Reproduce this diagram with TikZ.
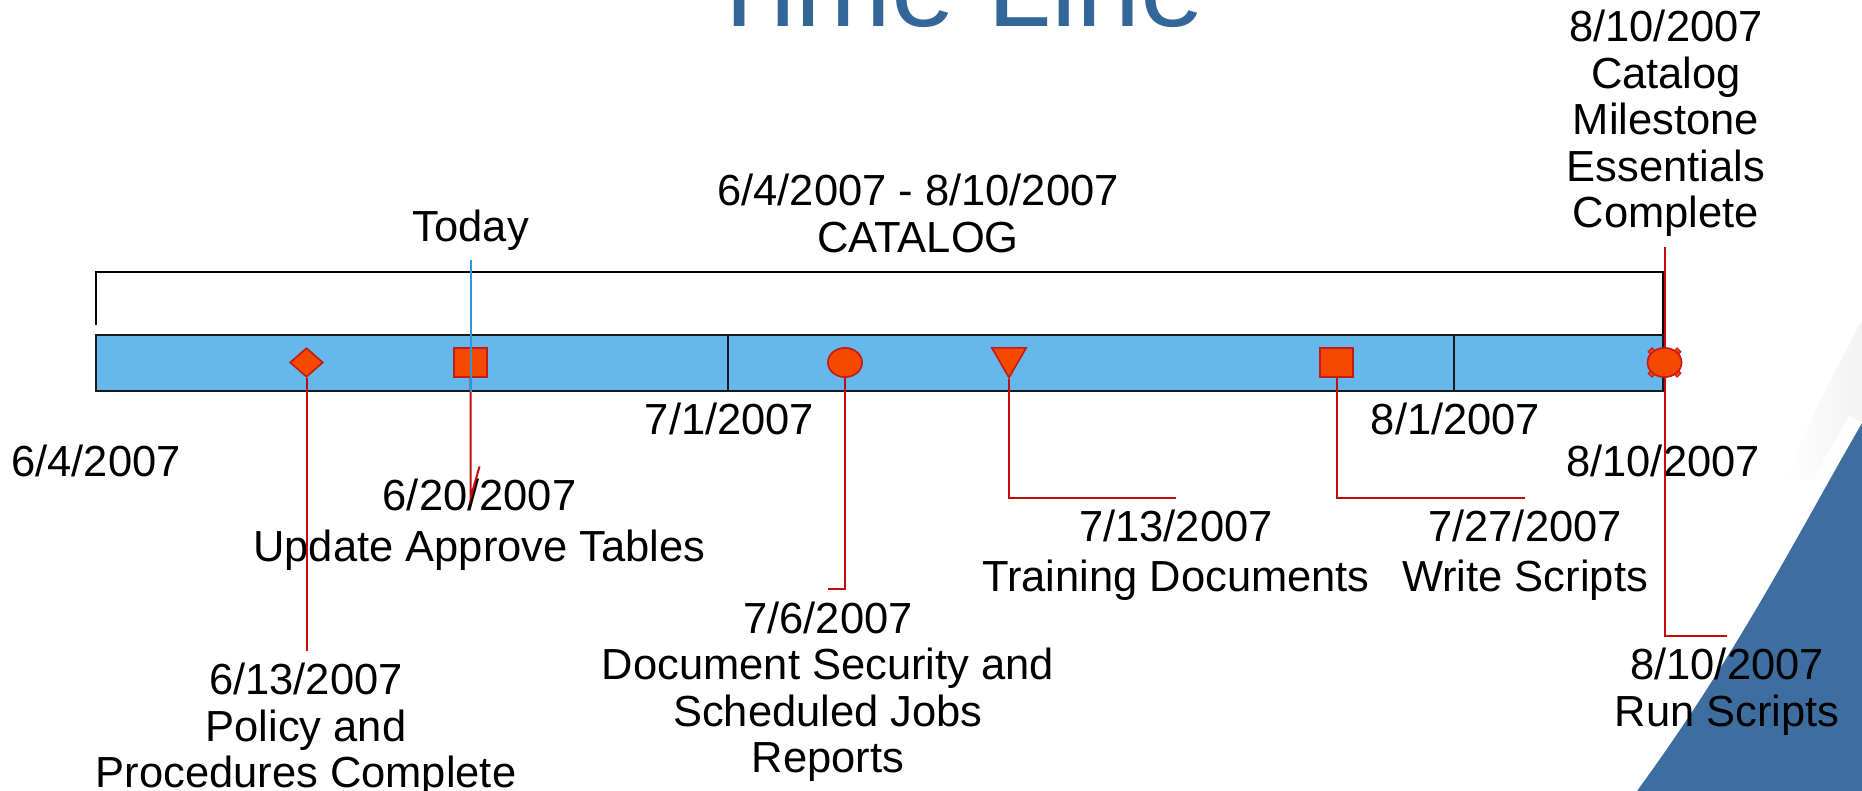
\documentclass[tikz,border=0pt]{standalone}
\usepackage{fontspec}
\setmainfont{Liberation Sans}
\usetikzlibrary{shapes.geometric}

\definecolor{barblue}{HTML}{66B8EC}
\definecolor{mfill}{HTML}{F54900}
\definecolor{mline}{HTML}{C41A1A}
\definecolor{conred}{HTML}{C40A0A}
\definecolor{todayblue}{HTML}{2E96E0}
\definecolor{titleblue}{HTML}{336699}
\definecolor{swoosh}{HTML}{3E6EA0}

% invisible strut fixing the height of a label's first line
\newcommand{\firstln}{\rule{0pt}{34pt}}

\begin{document}
\begin{tikzpicture}[x=1pt,y=-1pt,
  lbl/.style={font=\fontsize{43.5}{46.5}\selectfont, align=center,
    inner xsep=0pt, inner ysep=10pt, anchor=north},
  wide/.style={font=\fontsize{43.5}{#1}\selectfont},
  marker/.style={fill=mfill, draw=mline, line width=1.5pt, inner sep=0pt},
  conn/.style={draw=conred, line width=2pt},
  bracket/.style={draw=black, line width=2.5pt},
  barline/.style={draw=black!90, line width=2pt},
]
\useasboundingbox (0,0) rectangle (1862,791);
\clip (0,0) rectangle (1862,791);

% corner swoosh of the slide background
\shade[left color=white, right color=black!5]
  (1862,320) .. controls (1830,380) and (1805,430) .. (1785,480)
  -- (1862,480) -- cycle;
\draw[white, line width=30pt, opacity=0.9]
  (1862,423) .. controls (1800,530) and (1740,650) .. (1637,791);
\fill[swoosh]
  (1862,423) .. controls (1800,530) and (1740,650) .. (1637,791)
  -- (1862,791) -- cycle;

% title
\node[anchor=base, font=\fontsize{115}{130}\selectfont, text=titleblue,
  inner sep=0pt] (title) at (954.5,27) {Time Line};

% span bracket
\draw[bracket] (96,325) -- (96,272) -- (1663,272) -- (1663,335);

% time bar
\node[fill=barblue, barline, minimum width=1567pt, minimum height=56pt,
  inner sep=0pt] (bar) at (879.5,363) {};
\draw[barline] (728,0 |- bar.north) -- (728,0 |- bar.south);
\draw[barline] (1454,0 |- bar.north) -- (1454,0 |- bar.south);

% labels
\node[lbl] (span) at (918,161.5) {\firstln 6/4/2007 - 8/10/2007\\CATALOG};
\node[lbl] (today) at (470.8,197) {\firstln Today};
\node[lbl] (top) at (1666,-2.5)
  {\firstln 8/10/2007\\Catalog\\Milestone\\Essentials\\Complete};

\node[lbl] (t1) at (96,432) {\firstln 6/4/2007};
\node[lbl] (t2) at (729.5,390.5) {\firstln 7/1/2007};
\node[lbl] (t3) at (1455.5,390.5) {\firstln 8/1/2007};
\node[lbl] (t4) at (1663,432) {\firstln 8/10/2007};

\node[lbl] (l1) at (306,650.5)
  {\firstln 6/13/2007\\Policy and\\Procedures Complete};
\node[lbl, wide=51] (l2) at (479.5,466.5) {\firstln 6/20/2007\\Update Approve Tables};
\node[lbl] (l3) at (828,589)
  {\firstln 7/6/2007\\Document Security and\\Scheduled Jobs\\Reports};
\node[lbl, wide=49.5] (l4) at (1176,497.5) {\firstln 7/13/2007\\Training Documents};
\node[lbl, wide=49.5] (l5) at (1525,497.5) {\firstln 7/27/2007\\Write Scripts};
\node[lbl] (l6) at (1727,635.5) {\firstln 8/10/2007\\Run Scripts};

% milestone marker positions
\path
  (306.5,362.5) coordinate (p1)
  (470.5,362.5) coordinate (p2)
  (845,362.5)   coordinate (p3)
  (1009,357.8)  coordinate (p4)
  (1336.5,362.5) coordinate (p5)
  (1664.5,362.5) coordinate (p6)
  (470.5,498)   coordinate (k2);

\node[marker, diamond, minimum width=33pt, minimum height=29pt] (m1) at (p1) {};
\node[marker, rectangle, minimum width=33pt, minimum height=29pt] (m2) at (p2) {};
\node[marker, ellipse, minimum width=34pt, minimum height=29pt] (m3) at (p3) {};
\node[marker, regular polygon, regular polygon sides=3, shape border rotate=180,
  minimum size=39.3pt] (m4) at (p4) {};
\node[marker, rectangle, minimum width=33pt, minimum height=29pt] (m5) at (p5) {};
\node[marker, ellipse, minimum width=34pt, minimum height=29pt] (m6) at (p6) {};

% connectors from markers to their labels
\draw[conn] (m1.south) -- (m1.south |- l1.north);
\draw[conn] (m2.south) -- (k2) -- (l2.north);
\draw[conn] (m3.south) |- (l3.north);
\draw[conn] (m4.south) |- (l4.north);
\draw[conn] (m5.south) |- (l5.north);
\draw[conn] (m6.north |- top.south) -- (m6.south) |- (l6.north);

% markers redrawn on top of the connectors
\node[marker, diamond, minimum width=33pt, minimum height=29pt] at (p1) {};
\node[marker, rectangle, minimum width=33pt, minimum height=29pt] at (p2) {};
\node[marker, ellipse, minimum width=34pt, minimum height=29pt] at (p3) {};
\node[marker, regular polygon, regular polygon sides=3, shape border rotate=180,
  minimum size=39.3pt] at (p4) {};
\node[marker, rectangle, minimum width=33pt, minimum height=29pt] at (p5) {};
\foreach \a in {north west, north east, south west, south east}
  \node[marker, diamond, minimum size=8pt, line width=1pt] at (m6.\a) {};
\node[marker, ellipse, minimum width=34pt, minimum height=29pt] at (p6) {};

% current-date line
\draw[todayblue, line width=1.6pt] (today.south) -- (today.south |- bar.south);
\end{tikzpicture}
\end{document}
